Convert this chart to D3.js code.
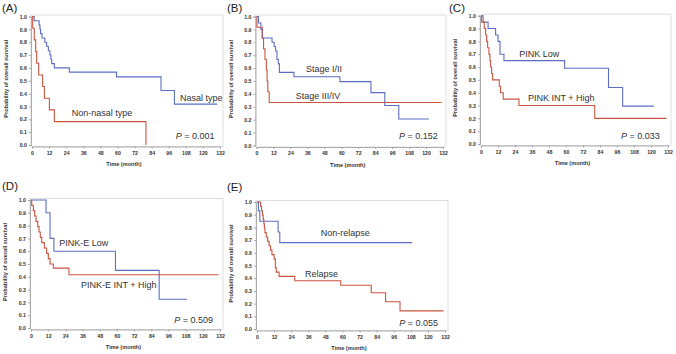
<!DOCTYPE html>
<html>
<head>
<meta charset="utf-8">
<script src="https://cdn.jsdelivr.net/npm/d3@7"></script>
<style>
  body { margin: 0; background: #fff; }
  svg { display: block; }
</style>
</head>
<body>
<svg id="chart" width="676" height="354"></svg>
<script>
// ---- data ----
const xTicks = [0, 12, 24, 36, 48, 60, 72, 84, 96, 108, 120, 132];
const yTicks = [0, 0.1, 0.2, 0.3, 0.4, 0.5, 0.6, 0.7, 0.8, 0.9, 1.0];

// (A) histology
const nasalTime = [0, 1.5, 5, 5.6, 6, 7, 9, 10.3, 11.5, 12.6, 13.3, 13.8, 15.7, 26.2, 59.4, 90.6, 100, 130];
const nasalSurv = [1, 0.967, 0.933, 0.9, 0.867, 0.833, 0.8, 0.767, 0.733, 0.7, 0.667, 0.633, 0.6, 0.567, 0.53, 0.424, 0.318, 0.318];
const nonNasalTime = [0, 0.5, 1.6, 2.6, 3.3, 4.7, 7.5, 8.7, 12.2, 15.7, 80];
const nonNasalSurv = [1, 0.909, 0.818, 0.727, 0.636, 0.545, 0.455, 0.364, 0.273, 0.182, 0];

// (B) stage
const stage12Time = [0, 1.4, 3.1, 4.2, 11, 12.5, 13.5, 14.5, 15.5, 16.2, 26.5, 59, 81, 90.8, 100.7, 122];
const stage12Surv = [1, 0.95, 0.9, 0.833, 0.8, 0.767, 0.733, 0.667, 0.633, 0.567, 0.533, 0.495, 0.41, 0.31, 0.205, 0.205];
const stage34Time = [0, 0.3, 4, 5, 6, 7, 7.5, 8, 9, 131];
const stage34Surv = [1, 0.917, 0.833, 0.75, 0.667, 0.583, 0.5, 0.417, 0.333, 0.333];

// (C) PINK
const pinkLowTime = [0, 1.5, 5, 10.3, 12, 13.4, 16.2, 59, 90, 100, 122];
const pinkLowSurv = [1, 0.95, 0.9, 0.85, 0.8, 0.7, 0.65, 0.59, 0.44, 0.295, 0.295];
const pinkHighTime = [0, 0.5, 2.3, 3.3, 4, 4.7, 5.6, 6.3, 6.8, 7.5, 8.2, 12.9, 13.8, 15.7, 26.8, 80.3, 131];
const pinkHighSurv = [1, 0.95, 0.9, 0.85, 0.8, 0.75, 0.7, 0.65, 0.6, 0.55, 0.5, 0.45, 0.4, 0.35, 0.3, 0.2, 0.2];

// (D) PINK-E
const pinkELowTime = [0, 10.5, 13.3, 16, 59, 89.5, 109];
const pinkELowSurv = [1, 0.9, 0.7, 0.6, 0.45, 0.225, 0.225];
const pinkEHighTime = [0, 0.5, 1.6, 2.6, 3.5, 4.7, 5.6, 6.5, 7.5, 9.3, 10.9, 12.1, 13.3, 15.6, 26.5, 131];
const pinkEHighSurv = [1, 0.958, 0.917, 0.875, 0.833, 0.792, 0.75, 0.708, 0.667, 0.625, 0.583, 0.542, 0.5, 0.468, 0.416, 0.416];

// (E) relapse
const nonRelapseTime = [0, 1, 2, 14.8, 16, 109];
const nonRelapseSurv = [1, 0.93, 0.848, 0.764, 0.68, 0.68];
const relapseTime = [0, 2.5, 3.2, 3.8, 4.4, 4.8, 5.2, 5.6, 6.5, 7.5, 8.5, 9.5, 10.5, 12, 12.9, 13.5, 15.5, 26.5, 58.8, 80.2, 90.3, 100.4, 131];
const relapseSurv = [1, 0.966, 0.931, 0.897, 0.862, 0.828, 0.793, 0.759, 0.724, 0.69, 0.655, 0.621, 0.586, 0.552, 0.483, 0.448, 0.414, 0.38, 0.345, 0.286, 0.215, 0.143, 0.143];

const BLUE = '#5b6ec6';
const RED  = '#c9553f';

// ---- panel layout ----
const panels = [
  { tag: '(A)', tagX: 2, tagY: 12, x0: 32, x1: 220, yTop: 16.5, yBot: 145,
    series: [[nasalTime, nasalSurv, BLUE], [nonNasalTime, nonNasalSurv, RED]],
    notes: [['Nasal type', 180, 100.7], ['Non-nasal type', 71.7, 116]],
    p: ['0.001', 175.7, 139.3] },
  { tag: '(B)', tagX: 227, tagY: 12, x0: 256.5, x1: 443, yTop: 16.5, yBot: 145.5,
    series: [[stage12Time, stage12Surv, BLUE], [stage34Time, stage34Surv, RED]],
    notes: [['Stage I/II', 306, 71.7], ['Stage III/IV', 295.7, 99.3]],
    p: ['0.152', 399, 139.3] },
  { tag: '(C)', tagX: 449, tagY: 12, x0: 481, x1: 668, yTop: 15.7, yBot: 144,
    series: [[pinkLowTime, pinkLowSurv, BLUE], [pinkHighTime, pinkHighSurv, RED]],
    notes: [['PINK Low', 519.3, 56.7], ['PINK INT + High', 528, 100.7]],
    p: ['0.033', 621, 139.3] },
  { tag: '(D)', tagX: 2, tagY: 190, x0: 31, x1: 220, yTop: 200, yBot: 328,
    series: [[pinkELowTime, pinkELowSurv, BLUE], [pinkEHighTime, pinkEHighSurv, RED]],
    notes: [['PINK-E Low', 59.3, 246], ['PINK-E INT + High', 81, 287.7]],
    p: ['0.509', 174.3, 322.7] },
  { tag: '(E)', tagX: 227, tagY: 191, x0: 257, x1: 445, yTop: 202, yBot: 329,
    series: [[nonRelapseTime, nonRelapseSurv, BLUE], [relapseTime, relapseSurv, RED]],
    notes: [['Non-relapse', 320.7, 235.7], ['Relapse', 305, 277.3]],
    p: ['0.055', 399.3, 325.7] }
];

const svg = d3.select('#chart');
const FONT = '"Liberation Sans", Arial, sans-serif';

panels.forEach(pn => {
  const x = d3.scaleLinear().domain([0, 132]).range([pn.x0, pn.x1]);
  const y = d3.scaleLinear().domain([0, 1]).range([pn.yBot, pn.yTop]);
  const g = svg.append('g');

  // light frame
  g.append('rect')
    .attr('x', pn.x0 - 1).attr('y', pn.yTop - 1.5)
    .attr('width', pn.x1 - pn.x0 + 4).attr('height', pn.yBot - pn.yTop + 3)
    .attr('fill', 'none').attr('stroke', '#d6d6d6').attr('stroke-width', 0.8);

  // axes
  const yAxis = g.append('g')
    .attr('transform', `translate(${pn.x0 - 1},0)`)
    .call(d3.axisLeft(y).tickValues(yTicks).tickFormat(d3.format('.1f')).tickSize(2).tickPadding(2));
  const xAxis = g.append('g')
    .attr('transform', `translate(0,${pn.yBot + 1.5})`)
    .call(d3.axisBottom(x).tickValues(xTicks).tickSize(2).tickPadding(2.5));
  [yAxis, xAxis].forEach(a => {
    a.select('.domain').attr('stroke', '#999').attr('stroke-width', 0.8);
    a.selectAll('.tick line').attr('stroke', '#999').attr('stroke-width', 0.8);
    a.selectAll('.tick text')
      .attr('fill', '#333').style('font', `bold 5.2px ${FONT}`);
  });

  // axis titles
  g.append('text')
    .attr('transform', `translate(${pn.x0 - 24},${(pn.yTop + pn.yBot) / 2 - 2}) rotate(-90)`)
    .attr('text-anchor', 'middle')
    .attr('fill', '#333')
    .style('font', `bold 5.6px ${FONT}`)
    .text('Probability of overall  survival');
  g.append('text')
    .attr('x', (pn.x0 + pn.x1) / 2 - 2).attr('y', pn.yBot + 21)
    .attr('text-anchor', 'middle')
    .attr('fill', '#333')
    .style('font', `bold 5.6px ${FONT}`)
    .text('Time (month)');

  // survival curves
  const line = d3.line()
    .x(d => x(d[0]))
    .y(d => y(d[1]))
    .curve(d3.curveStepAfter);
  pn.series.forEach(([t, s, col]) => {
    g.append('path')
      .datum(t.map((v, i) => [v, s[i]]))
      .attr('d', line)
      .attr('fill', 'none')
      .attr('stroke', col)
      .attr('stroke-width', 1.1);
  });

  // panel tag
  g.append('text')
    .attr('x', pn.tagX).attr('y', pn.tagY)
    .attr('fill', '#222')
    .style('font', `11.5px ${FONT}`)
    .text(pn.tag);

  // group labels
  pn.notes.forEach(([txt, tx, ty]) => {
    g.append('text')
      .attr('x', tx).attr('y', ty)
      .attr('fill', '#333')
      .style('font', `9px ${FONT}`)
      .text(txt);
  });

  // p value
  const pt = g.append('text')
    .attr('x', pn.p[1]).attr('y', pn.p[2])
    .attr('fill', '#333')
    .style('font', `9px ${FONT}`);
  pt.append('tspan').style('font-style', 'italic').text('P');
  pt.append('tspan').text(' = ' + pn.p[0]);
});
</script>
</body>
</html>
